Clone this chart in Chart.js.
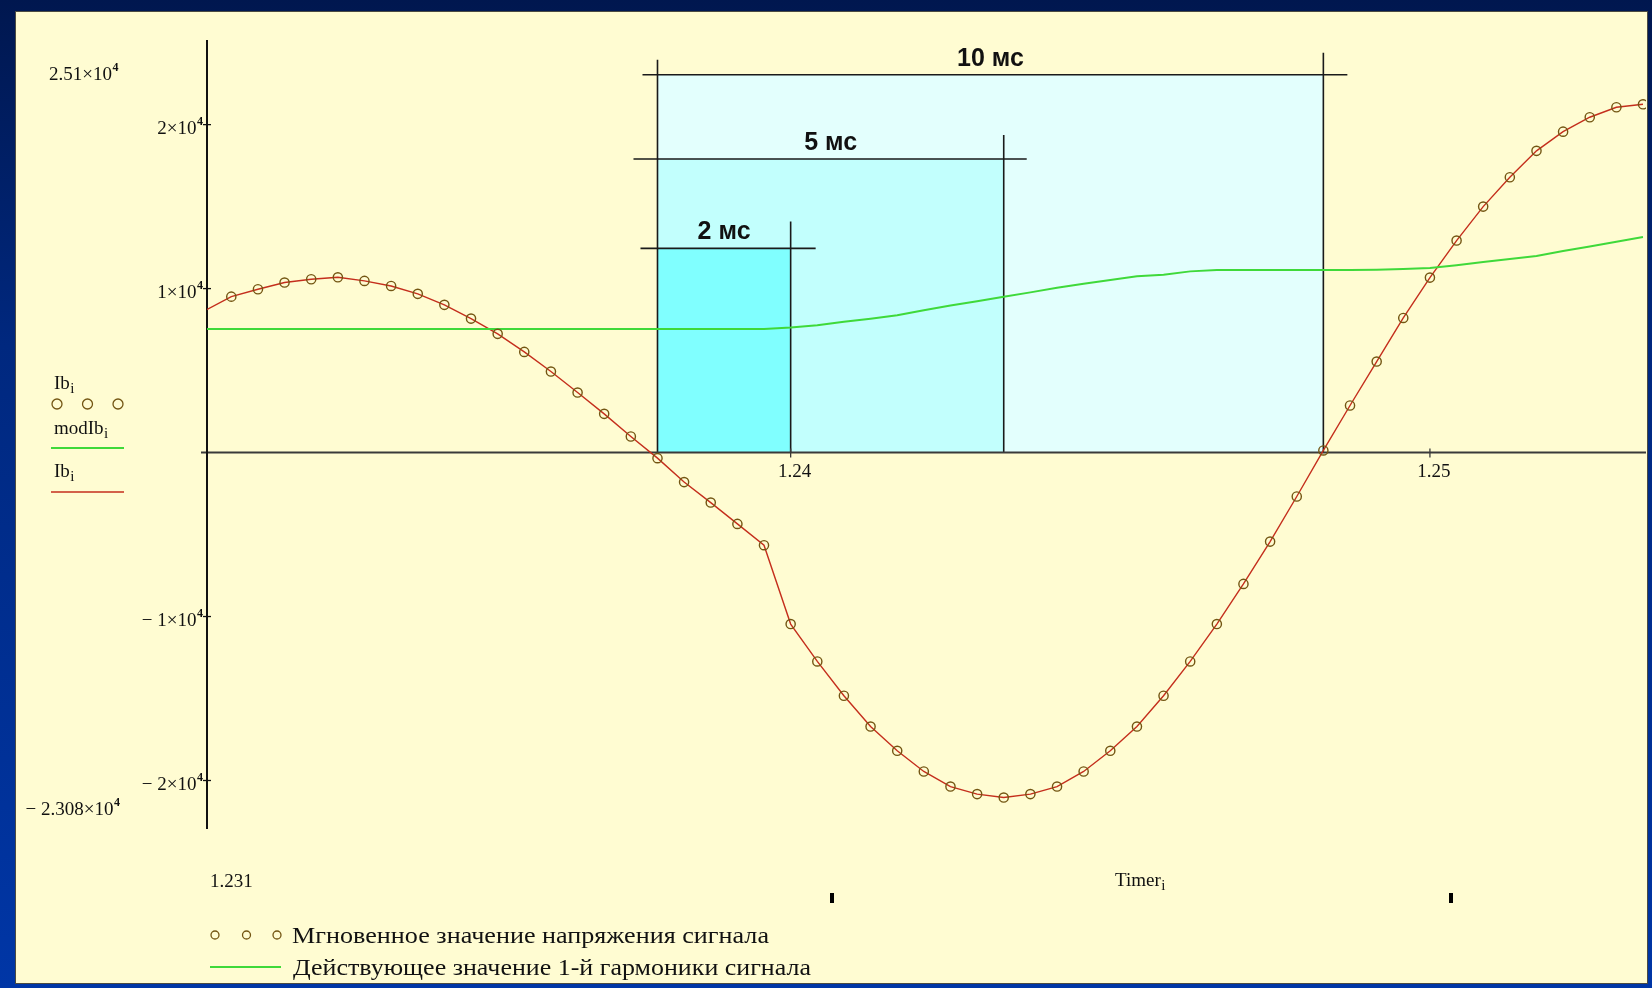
<!DOCTYPE html>
<html><head><meta charset="utf-8">
<script src="https://cdn.jsdelivr.net/npm/chart.js@4/dist/chart.umd.min.js"></script>
<style>html,body{margin:0;padding:0;background:#002a80;overflow:hidden}canvas{display:block}</style>
</head><body>
<canvas id="c" width="1652" height="988" style="width:1652px;height:988px"></canvas>
<script>
// ---- data ----
const timer = [1.230833,1.231250,1.231667,1.232083,1.232500,1.232917,1.233333,1.233750,1.234167,1.234583,
  1.235000,1.235417,1.235833,1.236250,1.236667,1.237083,1.237500,1.237917,1.238333,1.238750,
  1.239167,1.239583,1.240000,1.240417,1.240833,1.241250,1.241667,1.242083,1.242500,1.242917,
  1.243333,1.243750,1.244167,1.244583,1.245000,1.245417,1.245833,1.246250,1.246667,1.247083,
  1.247500,1.247917,1.248333,1.248750,1.249167,1.249583,1.250000,1.250417,1.250833,1.251250,
  1.251667,1.252083,1.252500,1.252917,1.253333];
const ibValues = [8650,9510,9960,10370,10570,10690,10470,10160,9680,9010,
  8170,7240,6140,4940,3660,2360,980,-340,-1800,-3050,
  -4350,-5650,-10460,-12740,-14830,-16710,-18190,-19450,-20370,-20830,
  -21040,-20830,-20370,-19450,-18190,-16710,-14830,-12740,-10460,-8010,
  -5430,-2680,130,2870,5550,8210,10670,12930,15000,16790,
  18400,19570,20450,21060,21240];
const modIbValues = [7540,7540,7540,7540,7540,7540,7540,7540,7540,7540,
  7540,7540,7540,7540,7540,7540,7540,7540,7540,7540,
  7540,7540,7620,7760,7975,8160,8370,8680,8965,9230,
  9500,9770,10050,10290,10530,10750,10850,11050,11140,11140,
  11140,11140,11140,11140,11150,11190,11260,11430,11620,11800,
  11990,12290,12570,12860,13140];
const xLimits = [1.23087, 1.25338];
const yLimits = [-23080, 25100];
const xLimitLabel = '1.231';
const yTopLabel = ['2.51×10', '4'];
const yBottomLabel = ['− 2.308×10', '4'];
const yTickValues = [20000, 10000, -10000, -20000];
const yTickLabels = [['2×10','4'], ['1×10','4'], ['− 1×10','4'], ['− 2×10','4']];
const xTickValues = [1.24, 1.25];
const xTickLabels = ['1.24', '1.25'];
const xAxisTitle = ['Timer', 'i'];
const spanLabels = ['10 мс', '5 мс', '2 мс'];
const spanStart = [1.237917, 1.237917, 1.237917];
const spanEnd = [1.248333, 1.243333, 1.240000];
const spanTop = [23040, 17900, 12450];
const traceNames = [['Ib','i'], ['modIb','i'], ['Ib','i']];
const seriesNames = ['Мгновенное значение напряжения сигнала', 'Действующее значение 1-й гармоники сигнала'];

// ---- styles ----
const SERIF = '"Liberation Serif","Times New Roman",serif';
const SANS = '"Liberation Sans",Arial,sans-serif';
const RED = '#c42e1c', GREEN = '#3fd93a', MARK = '#735512';
const spanFill = ['#e3fffd', '#c2fffd', '#80ffff'];

function supText(ctx, main, sup, x, y, align) {
  ctx.font = '19px ' + SERIF;
  const w = ctx.measureText(main).width;
  const x0 = align === 'right' ? x - w : x;
  ctx.textAlign = 'left';
  ctx.fillText(main, x0, y);
  ctx.font = 'bold 12px ' + SERIF;
  ctx.fillText(sup, x0 + w + 0.5, y - 9);
}
function subText(ctx, main, sub, x, y) {
  ctx.font = '19px ' + SERIF;
  ctx.textAlign = 'left';
  const w = ctx.measureText(main).width;
  ctx.fillText(main, x, y);
  ctx.font = '15px ' + SERIF;
  ctx.fillText(sub, x + w + 0.5, y + 4);
}
function fitText(ctx, text, x, y, width) {
  const w = ctx.measureText(text).width;
  ctx.save();
  ctx.translate(x, y);
  ctx.scale(width / w, 1);
  ctx.textAlign = 'left';
  ctx.fillText(text, 0, 0);
  ctx.restore();
}
function circle(ctx, x, y, r) {
  ctx.beginPath(); ctx.arc(x, y, r, 0, Math.PI * 2);
  ctx.strokeStyle = MARK; ctx.lineWidth = 1.3; ctx.stroke();
}

const decor = {
  id: 'decor',
  beforeDraw(chart) {
    const ctx = chart.ctx, W = chart.width, H = chart.height;
    const xs = chart.scales.x, ys = chart.scales.y;
    const a = chart.chartArea;
    ctx.save();
    // page background
    const g = ctx.createLinearGradient(0, 0, 0, H);
    g.addColorStop(0, '#00174f'); g.addColorStop(0.35, '#00287f'); g.addColorStop(1, '#0036a6');
    ctx.fillStyle = g; ctx.fillRect(0, 0, W, H);
    // panel
    ctx.fillStyle = '#fffcd2';
    ctx.fillRect(15, 11, 1633, 973);
    ctx.strokeStyle = 'rgba(30,30,30,0.8)'; ctx.lineWidth = 1;
    ctx.strokeRect(15.5, 11.5, 1632, 972);

    const y0 = ys.getPixelForValue(0);
    // span boxes
    for (let i = 0; i < spanLabels.length; i++) {
      const l = xs.getPixelForValue(spanStart[i]), r = xs.getPixelForValue(spanEnd[i]);
      const t = ys.getPixelForValue(spanTop[i]);
      ctx.fillStyle = spanFill[i];
      ctx.fillRect(l, t, r - l, y0 - t);
    }
    ctx.strokeStyle = '#1a1a1a'; ctx.lineWidth = 1.6;
    const overL = [15, 24, 17], overR = [24, 23, 25], upR = [22, 24, 27];
    for (let i = 0; i < spanLabels.length; i++) {
      const l = xs.getPixelForValue(spanStart[i]), r = xs.getPixelForValue(spanEnd[i]);
      const t = ys.getPixelForValue(spanTop[i]);
      ctx.beginPath();
      ctx.moveTo(l - overL[i], t); ctx.lineTo(r + overR[i], t);
      ctx.moveTo(r, t - upR[i]); ctx.lineTo(r, y0);
      if (i === 0) { ctx.moveTo(l, t - 15); ctx.lineTo(l, y0); }
      ctx.stroke();
      ctx.fillStyle = '#111';
      ctx.font = 'bold 25px ' + SANS;
      ctx.textAlign = 'center';
      ctx.fillText(spanLabels[i], (l + r) / 2, t - 9);
    }

    // x axis (zero line)
    ctx.strokeStyle = '#3a3a3a'; ctx.lineWidth = 2;
    ctx.beginPath(); ctx.moveTo(a.left - 6, y0); ctx.lineTo(a.right, y0); ctx.stroke();
    ctx.lineWidth = 1.3;
    ctx.fillStyle = '#111';
    xTickValues.forEach((v, i) => {
      const px = xs.getPixelForValue(v);
      ctx.beginPath(); ctx.moveTo(px, y0 - 4); ctx.lineTo(px, y0 + 5); ctx.stroke();
      ctx.font = '19px ' + SERIF; ctx.textAlign = 'center';
      ctx.fillText(xTickLabels[i], px + 4, y0 + 24);
    });
    // y axis
    ctx.strokeStyle = '#111'; ctx.lineWidth = 2;
    ctx.beginPath(); ctx.moveTo(a.left, a.top - 1); ctx.lineTo(a.left, a.bottom - 2); ctx.stroke();
    ctx.lineWidth = 1.3;
    yTickValues.forEach((v, i) => {
      const py = ys.getPixelForValue(v);
      ctx.beginPath(); ctx.moveTo(a.left - 4, py); ctx.lineTo(a.left + 4, py); ctx.stroke();
      supText(ctx, yTickLabels[i][0], yTickLabels[i][1], a.left - 10.5, py + 9.5, 'right');
    });
    // limit labels
    supText(ctx, yTopLabel[0], yTopLabel[1], 112, 80, 'right');
    supText(ctx, yBottomLabel[0], yBottomLabel[1], 113.5, 815, 'right');
    ctx.font = '19px ' + SERIF; ctx.textAlign = 'left';
    ctx.fillText(xLimitLabel, 210, 887);
    subText(ctx, xAxisTitle[0], xAxisTitle[1], 1115, 886);
    // small marks at the bottom
    ctx.fillStyle = '#000';
    ctx.fillRect(830, 893, 4, 10);
    ctx.fillRect(1449, 893, 4, 10);

    // trace names inside plot (left)
    ctx.fillStyle = '#111';
    subText(ctx, traceNames[0][0], traceNames[0][1], 54, 389);
    [57, 87.5, 118].forEach(x => circle(ctx, x, 404, 5));
    subText(ctx, traceNames[1][0], traceNames[1][1], 54, 434);
    ctx.strokeStyle = GREEN; ctx.lineWidth = 2;
    ctx.beginPath(); ctx.moveTo(51, 448); ctx.lineTo(124, 448); ctx.stroke();
    ctx.fillStyle = '#111';
    subText(ctx, traceNames[2][0], traceNames[2][1], 54, 477);
    ctx.strokeStyle = RED; ctx.lineWidth = 1.6;
    ctx.beginPath(); ctx.moveTo(51, 492); ctx.lineTo(124, 492); ctx.stroke();

    // bottom legend
    [215, 246.5, 277].forEach(x => circle(ctx, x, 935, 4));
    ctx.strokeStyle = GREEN; ctx.lineWidth = 2;
    ctx.beginPath(); ctx.moveTo(210, 967); ctx.lineTo(281, 967); ctx.stroke();
    ctx.fillStyle = '#111';
    ctx.font = '23px ' + SERIF;
    fitText(ctx, seriesNames[0], 292, 943, 477);
    fitText(ctx, seriesNames[1], 293, 975, 518);
    ctx.restore();
  }
};

const toPts = ys => timer.map((t, i) => ({ x: t, y: ys[i] }));
new Chart(document.getElementById('c').getContext('2d'), {
  type: 'line',
  data: {
    datasets: [
      { label: 'Ib markers', data: toPts(ibValues), showLine: false, pointStyle: 'circle',
        pointRadius: c => (c.raw && c.raw.x < xLimits[0]) ? 0 : 4.6,
        pointBorderColor: MARK, pointBackgroundColor: 'rgba(0,0,0,0)', pointBorderWidth: 1.4 },
      { label: 'modIb', data: toPts(modIbValues), borderColor: GREEN, borderWidth: 2, pointRadius: 0, tension: 0 },
      { label: 'Ib', data: toPts(ibValues), borderColor: RED, borderWidth: 1.4, pointRadius: 0, tension: 0 }
    ]
  },
  options: {
    responsive: false, animation: false, devicePixelRatio: 1, events: [],
    layout: { padding: { left: 207, right: 4, top: 41, bottom: 157 } },
    plugins: { legend: { display: false }, tooltip: { enabled: false } },
    scales: {
      x: { type: 'linear', min: xLimits[0], max: xLimits[1], display: false },
      y: { type: 'linear', min: yLimits[0], max: yLimits[1], display: false }
    }
  },
  plugins: [decor]
});
</script>
</body></html>
